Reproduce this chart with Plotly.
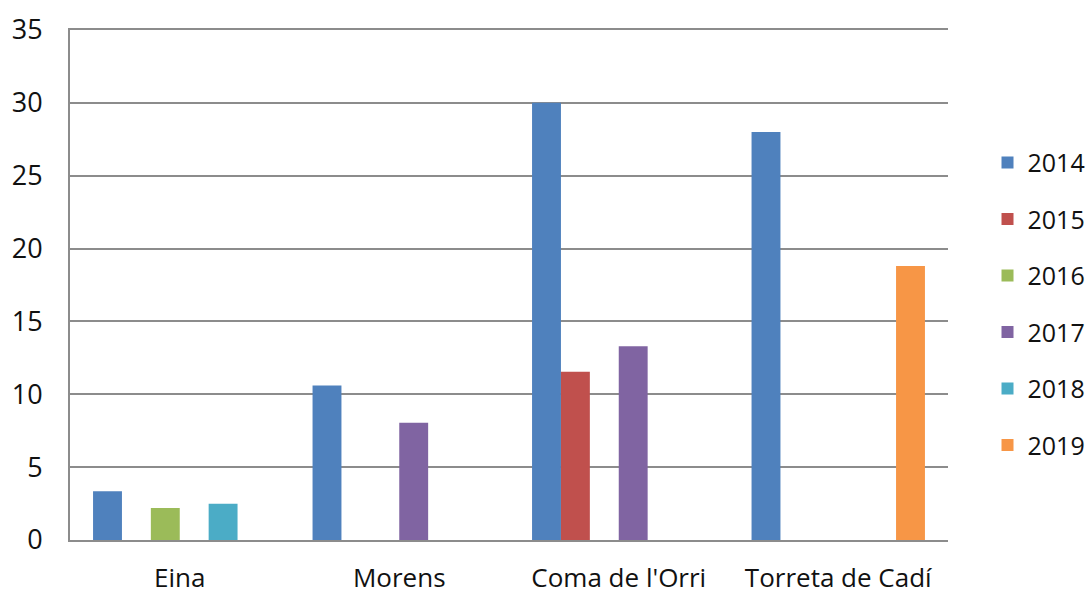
import plotly.graph_objects as go

categories = ["Eina", "Morens", "Coma de l'Orri", "Torreta de Cadí"]
years = ["2014", "2015", "2016", "2017", "2018", "2019"]
v2014 = [3.35, 10.6, 30.0, 28.0]
v2015 = [None, None, 11.55, None]
v2016 = [2.2, None, None, None]
v2017 = [None, 8.05, 13.3, None]
v2018 = [2.48, None, None, None]
v2019 = [None, None, None, 18.8]
series = [v2014, v2015, v2016, v2017, v2018, v2019]
colors = ["#4F81BD", "#C0504D", "#9BBB59", "#8064A2", "#4BACC6", "#F79646"]
y_ticks = [0, 5, 10, 15, 20, 25, 30, 35]

fig = go.Figure()
for yr, vals, col in zip(years, series, colors):
    fig.add_trace(go.Bar(x=categories, y=vals, name=yr, marker_color=col,
                         marker_line_width=0, legendgroup=yr))

font_family = "'Open Sans', Lato, sans-serif"
fig.update_layout(
    width=1090, height=595,
    barmode="group", bargap=0.21, bargroupgap=0,
    plot_bgcolor="white", paper_bgcolor="white",
    margin=dict(l=70, r=142, t=30, b=55, autoexpand=False),
    font=dict(family=font_family, size=26, color="#111111"),
    legend=dict(x=1.045, y=0.463, yanchor="middle", xanchor="left",
                tracegroupgap=21, font=dict(size=25), itemwidth=30),
    xaxis=dict(showline=True, mirror=True, linecolor="#8c8c8c", linewidth=2,
               ticks="", tickfont=dict(size=26), ticklabelstandoff=14,
               automargin=False),
    yaxis=dict(range=[0, 35], tickvals=y_ticks, showgrid=True,
               gridcolor="#8c8c8c", gridwidth=2, showline=True,
               linecolor="#8c8c8c", linewidth=2, zeroline=False,
               ticks="", tickfont=dict(size=27), ticklabelstandoff=20,
               automargin=False),
)
fig.write_html("out.html", config={"displayModeBar": False},
               post_script="document.body.style.margin='0';")
